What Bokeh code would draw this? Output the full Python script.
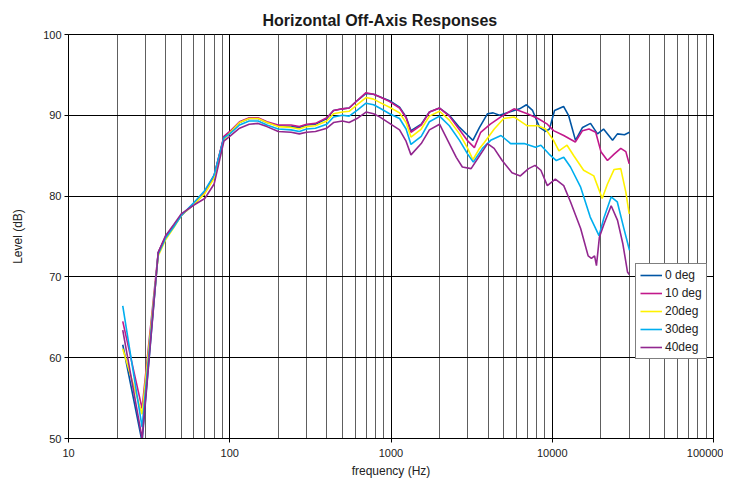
from bokeh.plotting import figure
from bokeh.models import Range1d, FixedTicker, NumeralTickFormatter, Legend, LegendItem
from bokeh.embed import file_html
from bokeh.resources import INLINE

# ---- data ----
freq_0 = [21.7, 28.6, 36, 40, 45, 50, 60, 70, 80, 92, 100, 115, 132, 150, 170, 200, 240, 270, 300, 340,
          400, 440, 500, 550, 615, 700, 780, 850, 980, 1130, 1240, 1330, 1540, 1730, 2000, 2300, 2660,
          3000, 3220, 3540, 3970, 4300, 4710, 5430, 6270, 6920, 7550, 8340, 9080, 9610, 10330, 11750,
          12620, 13940, 15410, 17270, 19080, 20800, 23660, 25360, 28050, 30130]
level_0 = [61.6, 49.6, 73.0, 74.9, 76.3, 77.6, 79.0, 80.4, 82.5, 87.3, 87.9, 89.1, 89.6, 89.6, 89.1, 88.7,
           88.6, 88.5, 88.8, 88.9, 89.6, 90.6, 90.8, 90.9, 91.8, 92.7, 92.6, 92.3, 91.8, 91.0, 89.8, 88.1,
           88.9, 90.4, 90.9, 90.0, 88.5, 87.5, 86.9, 88.5, 90.2, 90.3, 90.0, 90.4, 90.8, 91.3, 90.6, 88.5,
           88.0, 88.3, 90.6, 91.1, 90.0, 86.9, 88.5, 89.0, 87.7, 88.3, 86.9, 87.7, 87.6, 87.9]

freq_10 = [21.7, 28.6, 36, 40, 45, 50, 60, 70, 80, 92, 100, 115, 132, 150, 170, 200, 240, 270, 300, 340,
           400, 440, 500, 550, 615, 700, 780, 850, 980, 1130, 1240, 1330, 1540, 1730, 2000, 2300, 2660,
           3000, 3290, 3600, 4130, 4800, 5790, 7000, 8160, 9320, 10190, 11780, 13900, 15400, 16900,
           18600, 20040, 22000, 24200, 26600, 28600, 30000]
level_10 = [64.5, 53.7, 73.0, 75.0, 76.3, 77.6, 79.1, 80.5, 82.6, 87.4, 88.0, 89.2, 89.7, 89.7, 89.2, 88.8,
            88.8, 88.6, 88.9, 89.0, 89.7, 90.6, 90.8, 90.9, 91.8, 92.8, 92.6, 92.3, 91.7, 90.9, 89.7, 87.9,
            88.8, 90.4, 90.9, 89.9, 88.2, 86.8, 86.0, 87.9, 88.9, 89.8, 90.8, 90.2, 89.6, 88.9, 88.1, 87.5,
            86.7, 88.1, 88.3, 87.9, 85.5, 84.4, 85.2, 85.9, 85.5, 84.0]

freq_20 = [21.7, 28.6, 36, 40, 45, 50, 60, 70, 80, 92, 100, 115, 132, 150, 170, 200, 240, 270, 300, 340,
           400, 440, 500, 550, 615, 700, 780, 850, 980, 1130, 1240, 1330, 1540, 1730, 2000, 2300, 2660,
           2990, 3220, 3540, 3780, 4370, 5000, 5790, 7000, 8160, 9090, 10190, 11000, 12350, 13600, 15650,
           18100, 20400, 22000, 24200, 26600, 28600, 30000]
level_20 = [61.1, 53.0, 72.6, 74.6, 76.1, 77.6, 79.0, 80.3, 82.2, 87.0, 87.8, 89.1, 89.6, 89.6, 89.1, 88.6,
            88.5, 88.3, 88.6, 88.7, 89.3, 90.2, 90.4, 90.5, 91.3, 92.2, 92.0, 91.6, 91.0, 90.3, 89.1, 87.3,
            88.3, 89.9, 90.5, 89.4, 87.7, 85.9, 84.5, 85.9, 86.6, 88.3, 89.6, 89.8, 88.7, 88.7, 88.3, 86.9,
            85.6, 86.3, 85.0, 83.2, 82.5, 79.7, 81.5, 83.3, 83.4, 80.5, 77.8]

freq_30 = [21.7, 28.6, 36, 40, 45, 50, 60, 70, 80, 92, 100, 115, 132, 150, 170, 200, 240, 270, 300, 340,
           400, 440, 500, 550, 615, 700, 780, 850, 980, 1130, 1240, 1330, 1540, 1730, 2000, 2300, 2660,
           2990, 3240, 3690, 4150, 4810, 5520, 6700, 7870, 8500, 9550, 10600, 11780, 12970, 15000, 17200,
           19500, 20900, 23200, 25300, 27800, 30130]
level_30 = [66.4, 51.4, 72.8, 74.8, 76.2, 77.6, 79.2, 80.7, 82.6, 87.2, 87.7, 88.8, 89.3, 89.3, 88.8, 88.3,
            88.2, 88.0, 88.3, 88.4, 88.9, 89.8, 90.0, 89.9, 90.6, 91.5, 91.3, 90.9, 90.2, 89.6, 88.3, 86.4,
            87.4, 89.2, 89.9, 88.7, 86.9, 85.2, 84.2, 85.9, 86.9, 87.5, 86.5, 86.5, 86.05, 86.3, 85.2, 84.4,
            84.8, 83.6, 81.1, 77.4, 75.1, 77.3, 79.9, 79.3, 76.0, 73.3]

freq_40 = [21.7, 28.6, 36, 40, 45, 50, 60, 70, 80, 92, 100, 115, 132, 150, 170, 200, 240, 270, 300, 340,
           400, 440, 500, 550, 615, 700, 780, 850, 980, 1130, 1240, 1330, 1540, 1730, 2000, 2300, 2540,
           2770, 3140, 3540, 3970, 4360, 4890, 5630, 6340, 7130, 7820, 8500, 9320, 10450, 11780, 12970,
           15000, 16700, 17500, 18300, 18800, 19600, 21000, 23200, 25400, 27400, 29300, 30000]
level_40 = [63.4, 50.0, 73.0, 75.1, 76.5, 77.8, 78.9, 79.7, 81.5, 86.8, 87.4, 88.4, 88.9, 89.0, 88.6, 88.0,
            87.9, 87.7, 87.9, 88.0, 88.4, 89.1, 89.3, 89.1, 89.6, 90.4, 90.2, 89.8, 89.0, 88.2, 86.8, 85.1,
            86.5, 88.2, 88.9, 86.5, 84.8, 83.6, 83.4, 85.0, 86.5, 85.9, 84.4, 82.9, 82.5, 83.4, 83.8, 83.2,
            81.3, 82.1, 81.3, 79.3, 76.0, 72.6, 72.3, 72.6, 71.4, 74.9, 76.6, 78.8, 77.0, 74.1, 70.6, 70.3]

series_names = ["0 deg", "10 deg", "20deg", "30deg", "40deg"]
series_colors = ["#0055A4", "#C2188B", "#FFF200", "#00AEEF", "#92278F"]
series_freqs = [freq_0, freq_10, freq_20, freq_30, freq_40]
series_levels = [level_0, level_10, level_20, level_30, level_40]

x_major = [10, 100, 1000, 10000, 100000]
x_minor = [m * d for d in [10, 100, 1000, 10000] for m in range(2, 10)]
y_ticks = [50, 60, 70, 80, 90, 100]

FONT = "Liberation Sans"

p = figure(x_axis_type="log", x_range=Range1d(10, 100000), y_range=Range1d(50, 100),
           frame_width=645, frame_height=404, output_backend="svg", toolbar_location=None,
           min_border_left=68, min_border_right=10, min_border_top=34, min_border_bottom=38,
           background_fill_color="white", border_fill_color="white")

p.title.text = "Horizontal Off-Axis Responses"
p.title.text_font = FONT
p.title.text_font_size = "16px"
p.title.text_font_style = "bold"
p.title.text_color = "#1a1a1a"
p.title.align = "left"
p.title.offset = 194
p.title.standoff = 11

p.outline_line_color = "black"
p.outline_line_width = 1

p.xaxis.ticker = FixedTicker(ticks=x_major, minor_ticks=x_minor)
p.xaxis.formatter = NumeralTickFormatter(format="0")
p.yaxis.ticker = FixedTicker(ticks=y_ticks)

for ax in (p.xaxis, p.yaxis):
    ax.axis_line_color = "black"
    ax.major_tick_line_color = "black"
    ax.major_tick_out = 4
    ax.major_tick_in = 0
    ax.minor_tick_out = 0
    ax.minor_tick_in = 0
    ax.major_label_text_font = FONT
    ax.major_label_text_font_size = "11px"
    ax.major_label_text_color = "#222222"
    ax.axis_label_text_font = FONT
    ax.axis_label_text_font_size = "12px"
    ax.axis_label_text_font_style = "normal"
    ax.axis_label_text_color = "#222222"

p.xaxis.axis_label = "frequency (Hz)"
p.yaxis.axis_label = "Level (dB)"
p.xaxis.major_label_standoff = 6
p.xaxis.axis_label_standoff = 4
p.yaxis.major_label_standoff = 3
p.yaxis.axis_label_standoff = 15

p.xgrid.grid_line_color = "black"
p.xgrid.grid_line_alpha = 1.0
p.xgrid.minor_grid_line_color = "#4d4d4d"
p.xgrid.minor_grid_line_alpha = 0.9
p.ygrid.grid_line_color = "black"
p.ygrid.grid_line_alpha = 1.0

items = []
for name, color, fx, ly in zip(series_names, series_colors, series_freqs, series_levels):
    r = p.line(fx, ly, line_color=color, line_width=1.6)
    items.append(LegendItem(label=name, renderers=[r]))

legend = Legend(items=items, location=(567, 79))
legend.border_line_color = "black"
legend.border_line_width = 1
legend.background_fill_color = "white"
legend.background_fill_alpha = 1
legend.label_text_font = FONT
legend.label_text_font_size = "12px"
legend.label_text_color = "#222222"
legend.glyph_width = 22
legend.glyph_height = 14
legend.label_height = 14
legend.label_width = 33
legend.spacing = 4
legend.padding = 4
legend.margin = 0
legend.label_standoff = 3
p.add_layout(legend)

open("out.html", "w").write(file_html(p, INLINE))
